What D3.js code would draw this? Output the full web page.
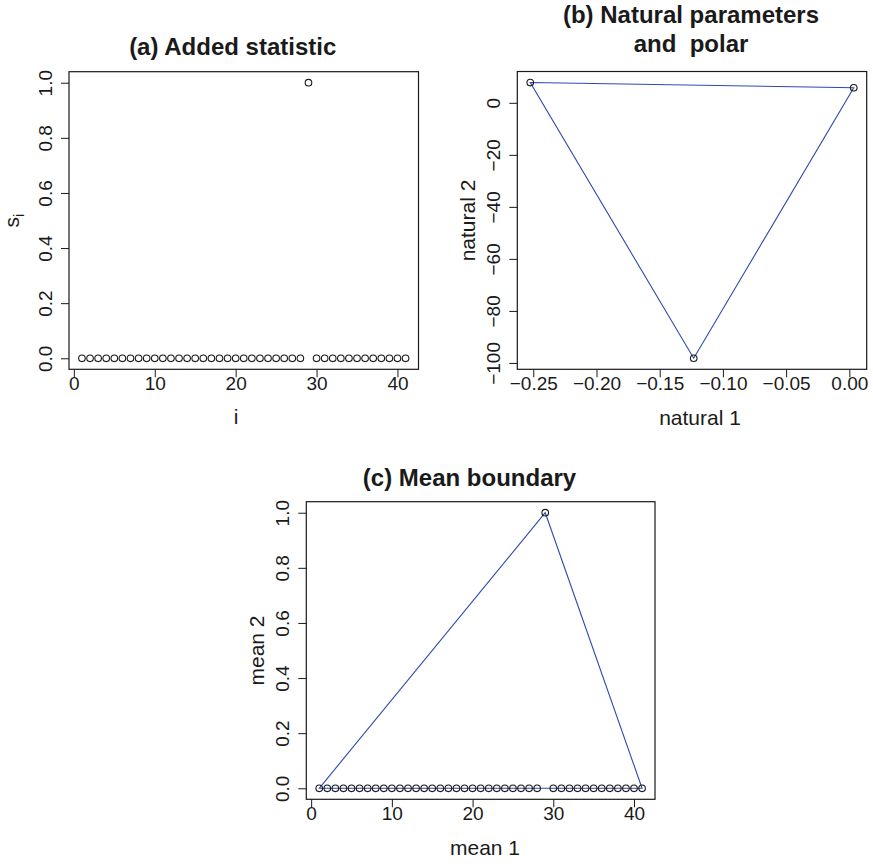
<!DOCTYPE html>
<html>
<head>
<meta charset="utf-8">
<script src="https://cdn.jsdelivr.net/npm/d3@7"></script>
<style>
  html, body { margin: 0; padding: 0; background: #fff; }
  svg { display: block; font-family: "Liberation Sans", Arial, Helvetica, sans-serif; }
</style>
</head>
<body>
<svg id="chart" width="873" height="864"></svg>
<script>
// ---------- data ----------
const statIndex = [1,2,3,4,5,6,7,8,9,10,11,12,13,14,15,16,17,18,19,20,
                   21,22,23,24,25,26,27,28,29,30,31,32,33,34,35,36,37,38,39,40,41];
const statValues = [0,0,0,0,0,0,0,0,0,0,0,0,0,0,0,0,0,0,0,0,
                    0,0,0,0,0,0,0,0,1,0,0,0,0,0,0,0,0,0,0,0,0];

const naturalX = [-0.2524, 0.0035, -0.1231];
const naturalY = [7.8, 5.8, -98.2];

const boundaryX = [1, 29, 41];
const boundaryY = [0, 1, 0];

const ticksAx = [0, 10, 20, 30, 40];
const ticksAy = [0.0, 0.2, 0.4, 0.6, 0.8, 1.0];
const ticksBx = [-0.25, -0.20, -0.15, -0.10, -0.05, 0.00];
const ticksBy = [0, -20, -40, -60, -80, -100];
const ticksCx = [0, 10, 20, 30, 40];
const ticksCy = [0.0, 0.2, 0.4, 0.6, 0.8, 1.0];

// ---------- layout ----------
const svg = d3.select("#chart");
const LINE_BLUE = "#2f4cac";
const INK = "#1a1a1a";

function padDomain(vals) {
  const [lo, hi] = d3.extent(vals);
  const p = (hi - lo) * 0.04;
  return [lo - p, hi + p];
}
const minus = s => s.replace(/-/g, "\u2212");

function panel(opts) {
  const { box, xVals, yVals, xTicks, yTicks, xFmt, yFmt } = opts;
  const x = d3.scaleLinear().domain(padDomain(xVals)).range([box.l, box.r]);
  const y = d3.scaleLinear().domain(padDomain(yVals)).range([box.b, box.t]);
  const g = svg.append("g");

  // x axis
  const ax = g.append("g").attr("transform", `translate(0,${box.b})`)
    .call(d3.axisBottom(x).tickValues(xTicks).tickSize(8).tickFormat(d => minus(xFmt(d))));
  ax.select(".domain").remove();
  ax.selectAll(".tick line").attr("stroke", INK);
  ax.selectAll(".tick text").attr("y", 21).attr("dy", 0).attr("fill", INK)
    .style("font-size", "19px");

  // y axis
  const ay = g.append("g").attr("transform", `translate(${box.l},0)`)
    .call(d3.axisLeft(y).tickValues(yTicks).tickSize(8).tickFormat(d => minus(yFmt(d))));
  ay.select(".domain").remove();
  ay.selectAll(".tick line").attr("stroke", INK);
  ay.selectAll(".tick text")
    .attr("x", 0).attr("y", 0).attr("dy", 0)
    .attr("text-anchor", "middle")
    .attr("transform", "translate(-17,0) rotate(-90)")
    .attr("fill", INK)
    .style("font-size", "19px");

  // box
  g.append("rect")
    .attr("x", box.l).attr("y", box.t)
    .attr("width", box.r - box.l).attr("height", box.b - box.t)
    .attr("fill", "none").attr("stroke", INK).attr("stroke-width", 1.2);

  return { g, x, y };
}

function title(lines, cx, baselines) {
  lines.forEach((t, i) => {
    svg.append("text")
      .attr("x", cx).attr("y", baselines[i])
      .attr("text-anchor", "middle")
      .style("font-size", "24px").style("font-weight", "bold")
      .attr("fill", INK)
      .attr("xml:space", "preserve")
      .text(t);
  });
}
function xLabel(t, cx, y) {
  svg.append("text").attr("x", cx).attr("y", y).attr("text-anchor", "middle")
    .style("font-size", "21px").attr("fill", INK).text(t);
}
function yLabel(t, x, cy) {
  svg.append("text").attr("transform", `translate(${x},${cy}) rotate(-90)`)
    .attr("text-anchor", "middle").style("font-size", "21px").attr("fill", INK).text(t);
}
function circles(g, xs, ys, x, y) {
  g.selectAll(null).data(xs.map((v, i) => [v, ys[i]])).enter()
    .append("circle")
    .attr("cx", d => x(d[0])).attr("cy", d => y(d[1])).attr("r", 3.3)
    .attr("fill", "none").attr("stroke", INK).attr("stroke-width", 1.1);
}

// ---------- (a) ----------
{
  const box = { l: 69, t: 71.7, r: 418.5, b: 369.3 };
  const p = panel({ box, xVals: statIndex, yVals: statValues,
    xTicks: ticksAx, yTicks: ticksAy, xFmt: d3.format("d"), yFmt: d3.format(".1f") });
  circles(p.g, statIndex, statValues, p.x, p.y);
  title(["(a) Added statistic"], 232.7, [54.5]);
  xLabel("i", 236, 424);
  const t = svg.append("text").attr("transform", `translate(19,220.5) rotate(-90)`)
    .attr("text-anchor", "middle").style("font-size", "21px").attr("fill", INK);
  t.append("tspan").text("s");
  t.append("tspan").attr("dy", 5).style("font-size", "15px").text("i");
}

// ---------- (b) ----------
{
  const box = { l: 517.3, t: 71.5, r: 866.7, b: 369.3 };
  const p = panel({ box, xVals: naturalX, yVals: naturalY,
    xTicks: ticksBx, yTicks: ticksBy, xFmt: d3.format(".2f"), yFmt: d3.format("d") });
  const line = d3.line().x(d => p.x(d[0])).y(d => p.y(d[1])).curve(d3.curveLinearClosed);
  p.g.append("path").datum(naturalX.map((v, i) => [v, naturalY[i]]))
    .attr("d", line).attr("fill", "none").attr("stroke", LINE_BLUE).attr("stroke-width", 1.1);
  circles(p.g, naturalX, naturalY, p.x, p.y);
  title(["(b) Natural parameters", "and  polar"], 691, [23.3, 51.7]);
  xLabel("natural 1", 700, 425);
  yLabel("natural 2", 475, 220.5);
}

// ---------- (c) ----------
{
  const box = { l: 306.3, t: 501.7, r: 655, b: 799.3 };
  const p = panel({ box, xVals: statIndex, yVals: statValues,
    xTicks: ticksCx, yTicks: ticksCy, xFmt: d3.format("d"), yFmt: d3.format(".1f") });
  const line = d3.line().x(d => p.x(d[0])).y(d => p.y(d[1])).curve(d3.curveLinearClosed);
  p.g.append("path").datum(boundaryX.map((v, i) => [v, boundaryY[i]]))
    .attr("d", line).attr("fill", "none").attr("stroke", LINE_BLUE).attr("stroke-width", 1.1);
  circles(p.g, statIndex, statValues, p.x, p.y);
  title(["(c) Mean boundary"], 469.5, [485.5]);
  xLabel("mean 1", 485, 855);
  yLabel("mean 2", 264, 650.5);
}
</script>
</body>
</html>
